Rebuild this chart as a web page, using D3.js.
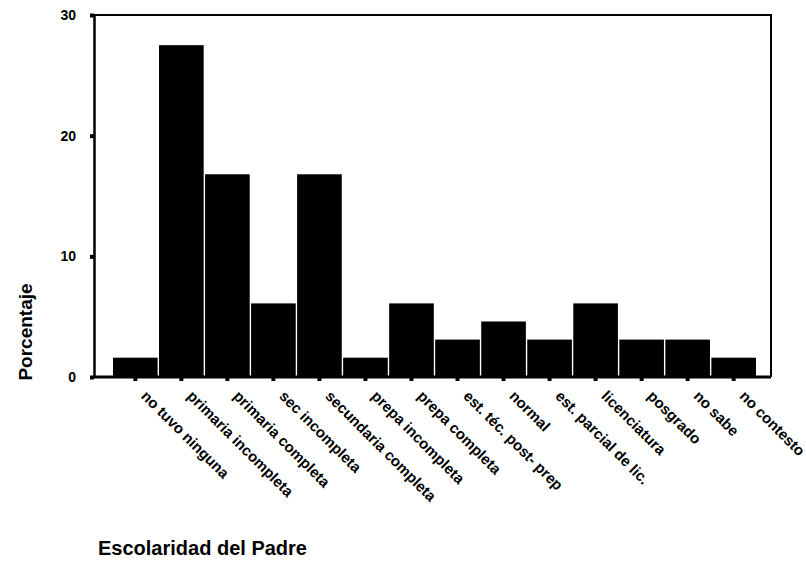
<!DOCTYPE html>
<html>
<head>
<meta charset="utf-8">
<script src="https://cdn.jsdelivr.net/npm/d3@7"></script>
<style>
  body { margin: 0; background: #fff; }
  text { font-family: Arial, "Liberation Sans", sans-serif; fill: #000; }
</style>
</head>
<body>
<div id="chart"></div>
<script>
// categories and values
var categories = ["no tuvo ninguna", "primaria incompleta", "primaria completa", "sec incompleta",
  "secundaria completa", "prepa incompleta", "prepa completa", "est. téc. post- prep",
  "normal", "est. parcial de lic.", "licenciatura", "posgrado", "no sabe", "no contesto"];
var values = [1.6, 27.5, 16.8, 6.1, 16.8, 1.6, 6.1, 3.1, 4.6, 3.1, 6.1, 3.1, 3.1, 1.6];
var yTicks = [0, 10, 20, 30];

var W = 806, H = 563,
    plotLeft = 94, plotRight = 771, plotTop = 15, plotBottom = 377;

var svg = d3.select("#chart").append("svg")
    .attr("width", W)
    .attr("height", H);

var x = d3.scaleBand()
    .domain(categories)
    .range([113, 756])
    .paddingInner(0.03);

var y = d3.scaleLinear()
    .domain([0, 30])
    .range([plotBottom, plotTop]);

// frame (top and right)
svg.append("path")
    .attr("d", "M" + plotLeft + "," + plotTop + "H" + plotRight + "V" + plotBottom)
    .attr("fill", "none")
    .attr("stroke", "#000")
    .attr("stroke-width", 2);

// bars
svg.append("g").selectAll("rect")
    .data(values)
  .enter().append("rect")
    .attr("x", function(d, i){ return x(categories[i]); })
    .attr("y", function(d){ return y(d); })
    .attr("width", x.bandwidth())
    .attr("height", function(d){ return y(0) - y(d); })
    .attr("fill", "#000");

// y axis
var yAxis = svg.append("g")
    .attr("transform", "translate(" + plotLeft + ",0)")
    .call(d3.axisLeft(y).tickValues(yTicks).tickSize(4).tickSizeOuter(0).tickPadding(14));
yAxis.select(".domain").attr("stroke-width", 2.5);
yAxis.selectAll(".tick line").attr("stroke-width", 4);
yAxis.selectAll(".tick text")
    .style("font-size", "14px")
    .style("font-weight", "bold")
    .attr("fill", "#000");

// x axis
var xAxis = svg.append("g")
    .attr("transform", "translate(0," + plotBottom + ")")
    .call(d3.axisBottom(x).tickSize(4).tickSizeOuter(0));
xAxis.select(".domain").attr("d", "M" + plotLeft + ",0H" + plotRight).attr("stroke-width", 3);
xAxis.selectAll(".tick line").attr("stroke-width", 4);
xAxis.selectAll(".tick text")
    .attr("x", 0).attr("y", 0).attr("dy", 0)
    .attr("transform", "translate(5,20) rotate(45)")
    .style("text-anchor", "start")
    .style("font-size", "15px")
    .style("font-weight", "bold")
    .attr("fill", "#000");

// axis titles
svg.append("text")
    .attr("transform", "translate(32,332) rotate(-90)")
    .style("text-anchor", "middle")
    .style("font-size", "19px")
    .style("font-weight", "bold")
    .text("Porcentaje");

svg.append("text")
    .attr("x", 98)
    .attr("y", 555)
    .style("font-size", "20px")
    .style("font-weight", "bold")
    .text("Escolaridad del Padre");
</script>
</body>
</html>
